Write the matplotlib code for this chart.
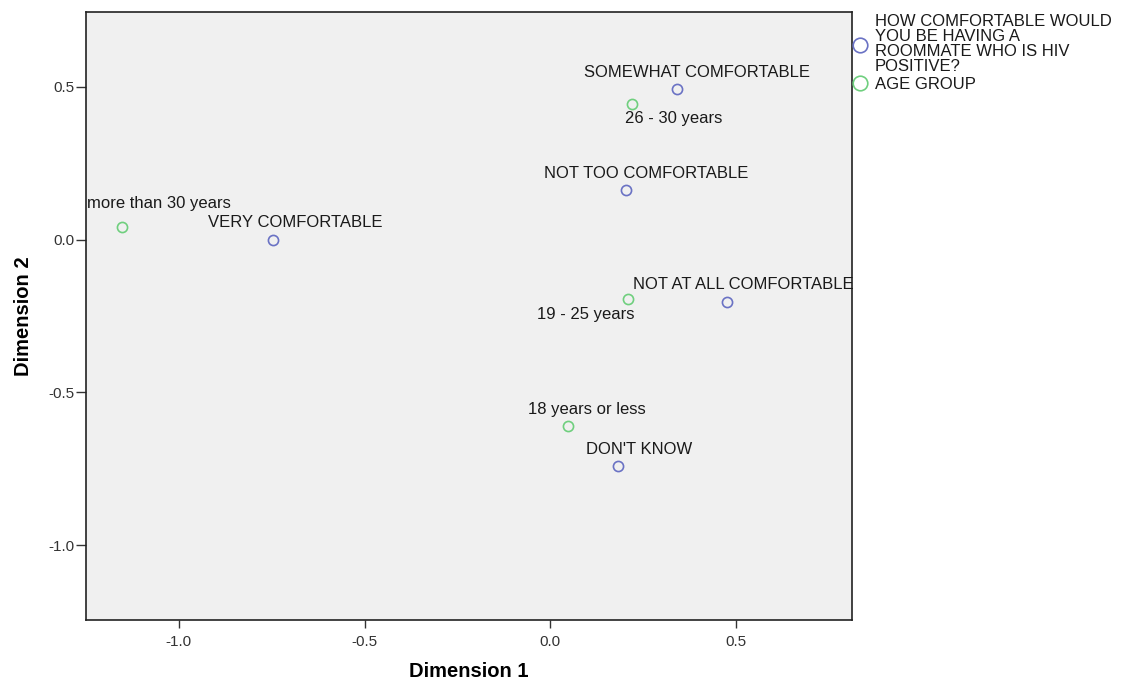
import matplotlib.pyplot as plt
from matplotlib.lines import Line2D

# row points: HIV roommate comfort, column points: age group
comfort_labels = ["VERY COMFORTABLE", "SOMEWHAT COMFORTABLE", "NOT TOO COMFORTABLE",
                  "NOT AT ALL COMFORTABLE", "DON'T KNOW"]
comfort_x = [-0.747, 0.341, 0.204, 0.476, 0.182]
comfort_y = [0.000, 0.493, 0.163, -0.203, -0.742]

age_labels = ["more than 30 years", "26 - 30 years", "19 - 25 years", "18 years or less"]
age_x = [-1.152, 0.220, 0.210, 0.048]
age_y = [0.042, 0.444, -0.193, -0.611]

legend_labels = ["HOW COMFORTABLE WOULD\nYOU BE HAVING A\nROOMMATE WHO IS HIV\nPOSITIVE?",
                 "AGE GROUP"]
xticks = [-1.0, -0.5, 0.0, 0.5]
yticks = [-1.0, -0.5, 0.0, 0.5]

# label placement in pixels: (dx, dy, ha)
comfort_off = [(22, 17, 'center'), (20, 16, 'center'), (20, 16, 'center'),
               (-94, 17, 'left'), (21, 17, 'center')]
age_off = [(-35, 23, 'left'), (42, -15, 'center'), (-43, -16, 'center'), (19, 17, 'center')]

blue = '#6a72c4'
green = '#6fcf7e'
fnt = ['Liberation Sans', 'DejaVu Sans']

plt.rcParams['font.family'] = fnt

fig = plt.figure(figsize=(11.26, 6.84), dpi=100)
ax = fig.add_axes([0.0764, 0.0936, 0.6803, 0.8889])
ax.set_facecolor('#f0f0f0')

ax.plot(comfort_x, comfort_y, 'o', ms=7.3, mfc='none', mec=blue, mew=1.2, clip_on=False)
ax.plot(age_x, age_y, 'o', ms=7.3, mfc='none', mec=green, mew=1.2, clip_on=False)

for lab, x, y, (dx, dy, ha) in zip(comfort_labels, comfort_x, comfort_y, comfort_off):
    a = ax.annotate(lab, (x, y), xytext=(dx, dy), textcoords='offset pixels',
                    ha=ha, va='center', fontsize=12, color='#1a1a1a',
                    annotation_clip=False)
    a.set_clip_on(True)
for lab, x, y, (dx, dy, ha) in zip(age_labels, age_x, age_y, age_off):
    ax.annotate(lab, (x, y), xytext=(dx, dy), textcoords='offset pixels',
                ha=ha, va='center', fontsize=12, color='#1a1a1a',
                annotation_clip=False)

ax.set_xlim(-1.25, 0.812)
ax.set_ylim(-1.245, 0.745)
ax.set_xticks(xticks)
ax.set_yticks(yticks)
ax.set_xticklabels([f"{t:.1f}" for t in xticks])
ax.set_yticklabels([f"{t:.1f}" for t in yticks])
ax.tick_params(width=1, color='#333333', labelsize=11, labelcolor='#333333')
ax.tick_params(axis='x', length=6, pad=5)
ax.tick_params(axis='y', length=7.5, pad=1)
for s in ax.spines.values():
    s.set_linewidth(1.2)
    s.set_color('#222222')

lab_font = dict(family=fnt, weight='bold', size=14.5)
ax.set_xlabel("Dimension 1", fontdict=lab_font, labelpad=9)
ax.set_ylabel("Dimension 2", fontdict=lab_font, labelpad=11)

handles = [Line2D([], [], ls='none', marker='o', ms=10.5, mfc='none', mec=blue, mew=1.2),
           Line2D([], [], ls='none', marker='o', ms=10.5, mfc='none', mec=green, mew=1.2)]
leg = ax.legend(handles, legend_labels, loc='upper left', bbox_to_anchor=(0.999, 0.996),
                frameon=False, prop={'size': 12}, handletextpad=0.4, handlelength=1.0,
                labelspacing=0.15, borderaxespad=0.0, borderpad=0.0)
for t in leg.get_texts():
    t.set_linespacing(1.0)
    t.set_color('#1a1a1a')

fig.savefig('out.png', dpi=100)
